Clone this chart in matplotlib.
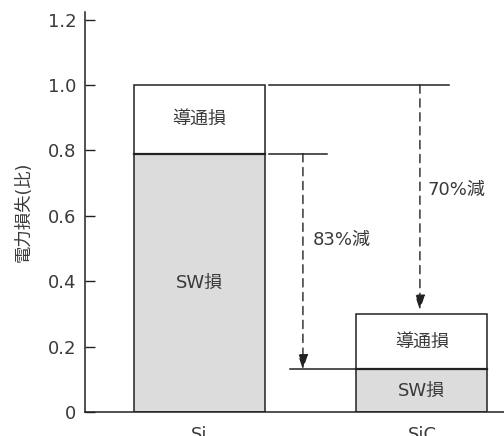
import matplotlib
matplotlib.use("Agg")
import matplotlib.pyplot as plt

plt.rcParams['font.family'] = ['DejaVu Sans', 'Noto Sans CJK JP']

# Data
categories = ["Si", "SiC"]
sw_loss = [0.79, 0.13]          # スイッチング損失
cond_loss = [0.21, 0.17]        # 導通損失
reduction_labels = ["83%減", "70%減"]
yticks = [0, 0.2, 0.4, 0.6, 0.8, 1.0, 1.2]
ytick_labels = ["0", "0.2", "0.4", "0.6", "0.8", "1.0", "1.2"]

ink = "#222222"
text_ink = "#3a3a3a"
gray = "#dcdcdc"

W, H, DPI = 504, 436, 100
fig = plt.figure(figsize=(W / DPI, H / DPI), dpi=DPI)
ax = fig.add_axes([84.5 / W, 24 / H, (W - 84.5) / W, 400 / H])

x = [0, 1]
bw = 0.589
ax.bar(x, sw_loss, width=bw, color=gray, edgecolor=ink, linewidth=1.1, zorder=2)
ax.bar(x, cond_loss, width=bw, bottom=sw_loss, color="white", edgecolor=ink,
       linewidth=1.1, zorder=2)
# thicker divider between the two segments
for xi, s in zip(x, sw_loss):
    ax.plot([xi - bw / 2, xi + bw / 2], [s, s], color=ink, lw=1.6, zorder=3)

fs = 13
for xi, s, c in zip(x, sw_loss, cond_loss):
    ax.text(xi, s / 2, "SW損", ha="center", va="center", fontsize=fs,
            color=text_ink, zorder=4)
    ax.text(xi, s + c / 2, "導通損", ha="center", va="center", fontsize=fs,
            color=text_ink, zorder=4)

si_total = sw_loss[0] + cond_loss[0]
sic_total = sw_loss[1] + cond_loss[1]
edge = bw / 2

# reference lines
ax.plot([edge + 0.018, 1.121], [si_total, si_total], color=ink, lw=1.1)
ax.plot([edge + 0.018, 0.573], [sw_loss[0], sw_loss[0]], color=ink, lw=1.1)
ax.plot([0.407, 1 - edge], [sw_loss[1], sw_loss[1]], color=ink, lw=1.1)

def dashed_arrow(xpos, y0, y1):
    ax.annotate("", xy=(xpos, y1), xytext=(xpos, y0),
                arrowprops=dict(arrowstyle="-|>,head_length=0.9,head_width=0.3",
                                color=ink, lw=1.0, linestyle=(0, (6, 4)),
                                shrinkA=0, shrinkB=0))

dashed_arrow(0.465, sw_loss[0], sw_loss[1])
dashed_arrow(0.991, si_total, sic_total + 0.012)

ax.text(0.51, 0.525, reduction_labels[0], ha="left", va="center", fontsize=fs, color=text_ink)
ax.text(1.025, 0.678, reduction_labels[1], ha="left", va="center", fontsize=fs, color=text_ink)

ax.set_xlim(-0.517, 1.369)
ax.set_ylim(0, 1.223)
ax.set_yticks(yticks)
ax.set_yticklabels(ytick_labels)
ax.set_xticks(x)
ax.set_xticklabels(categories)
ax.tick_params(axis="y", direction="in", length=7, width=1.0, color=ink,
               labelcolor=text_ink, labelsize=fs, pad=6)
ax.tick_params(axis="x", length=0, labelsize=fs, labelcolor=text_ink, pad=10)
for side in ("top", "right"):
    ax.spines[side].set_visible(False)
for side in ("left", "bottom"):
    ax.spines[side].set_color(ink)
    ax.spines[side].set_linewidth(1.1)

ax.set_ylabel("電力損失(比)", fontsize=12.5, color=text_ink)
ax.yaxis.set_label_coords(-0.124, 0.5)

fig.savefig("out.png", dpi=DPI)
